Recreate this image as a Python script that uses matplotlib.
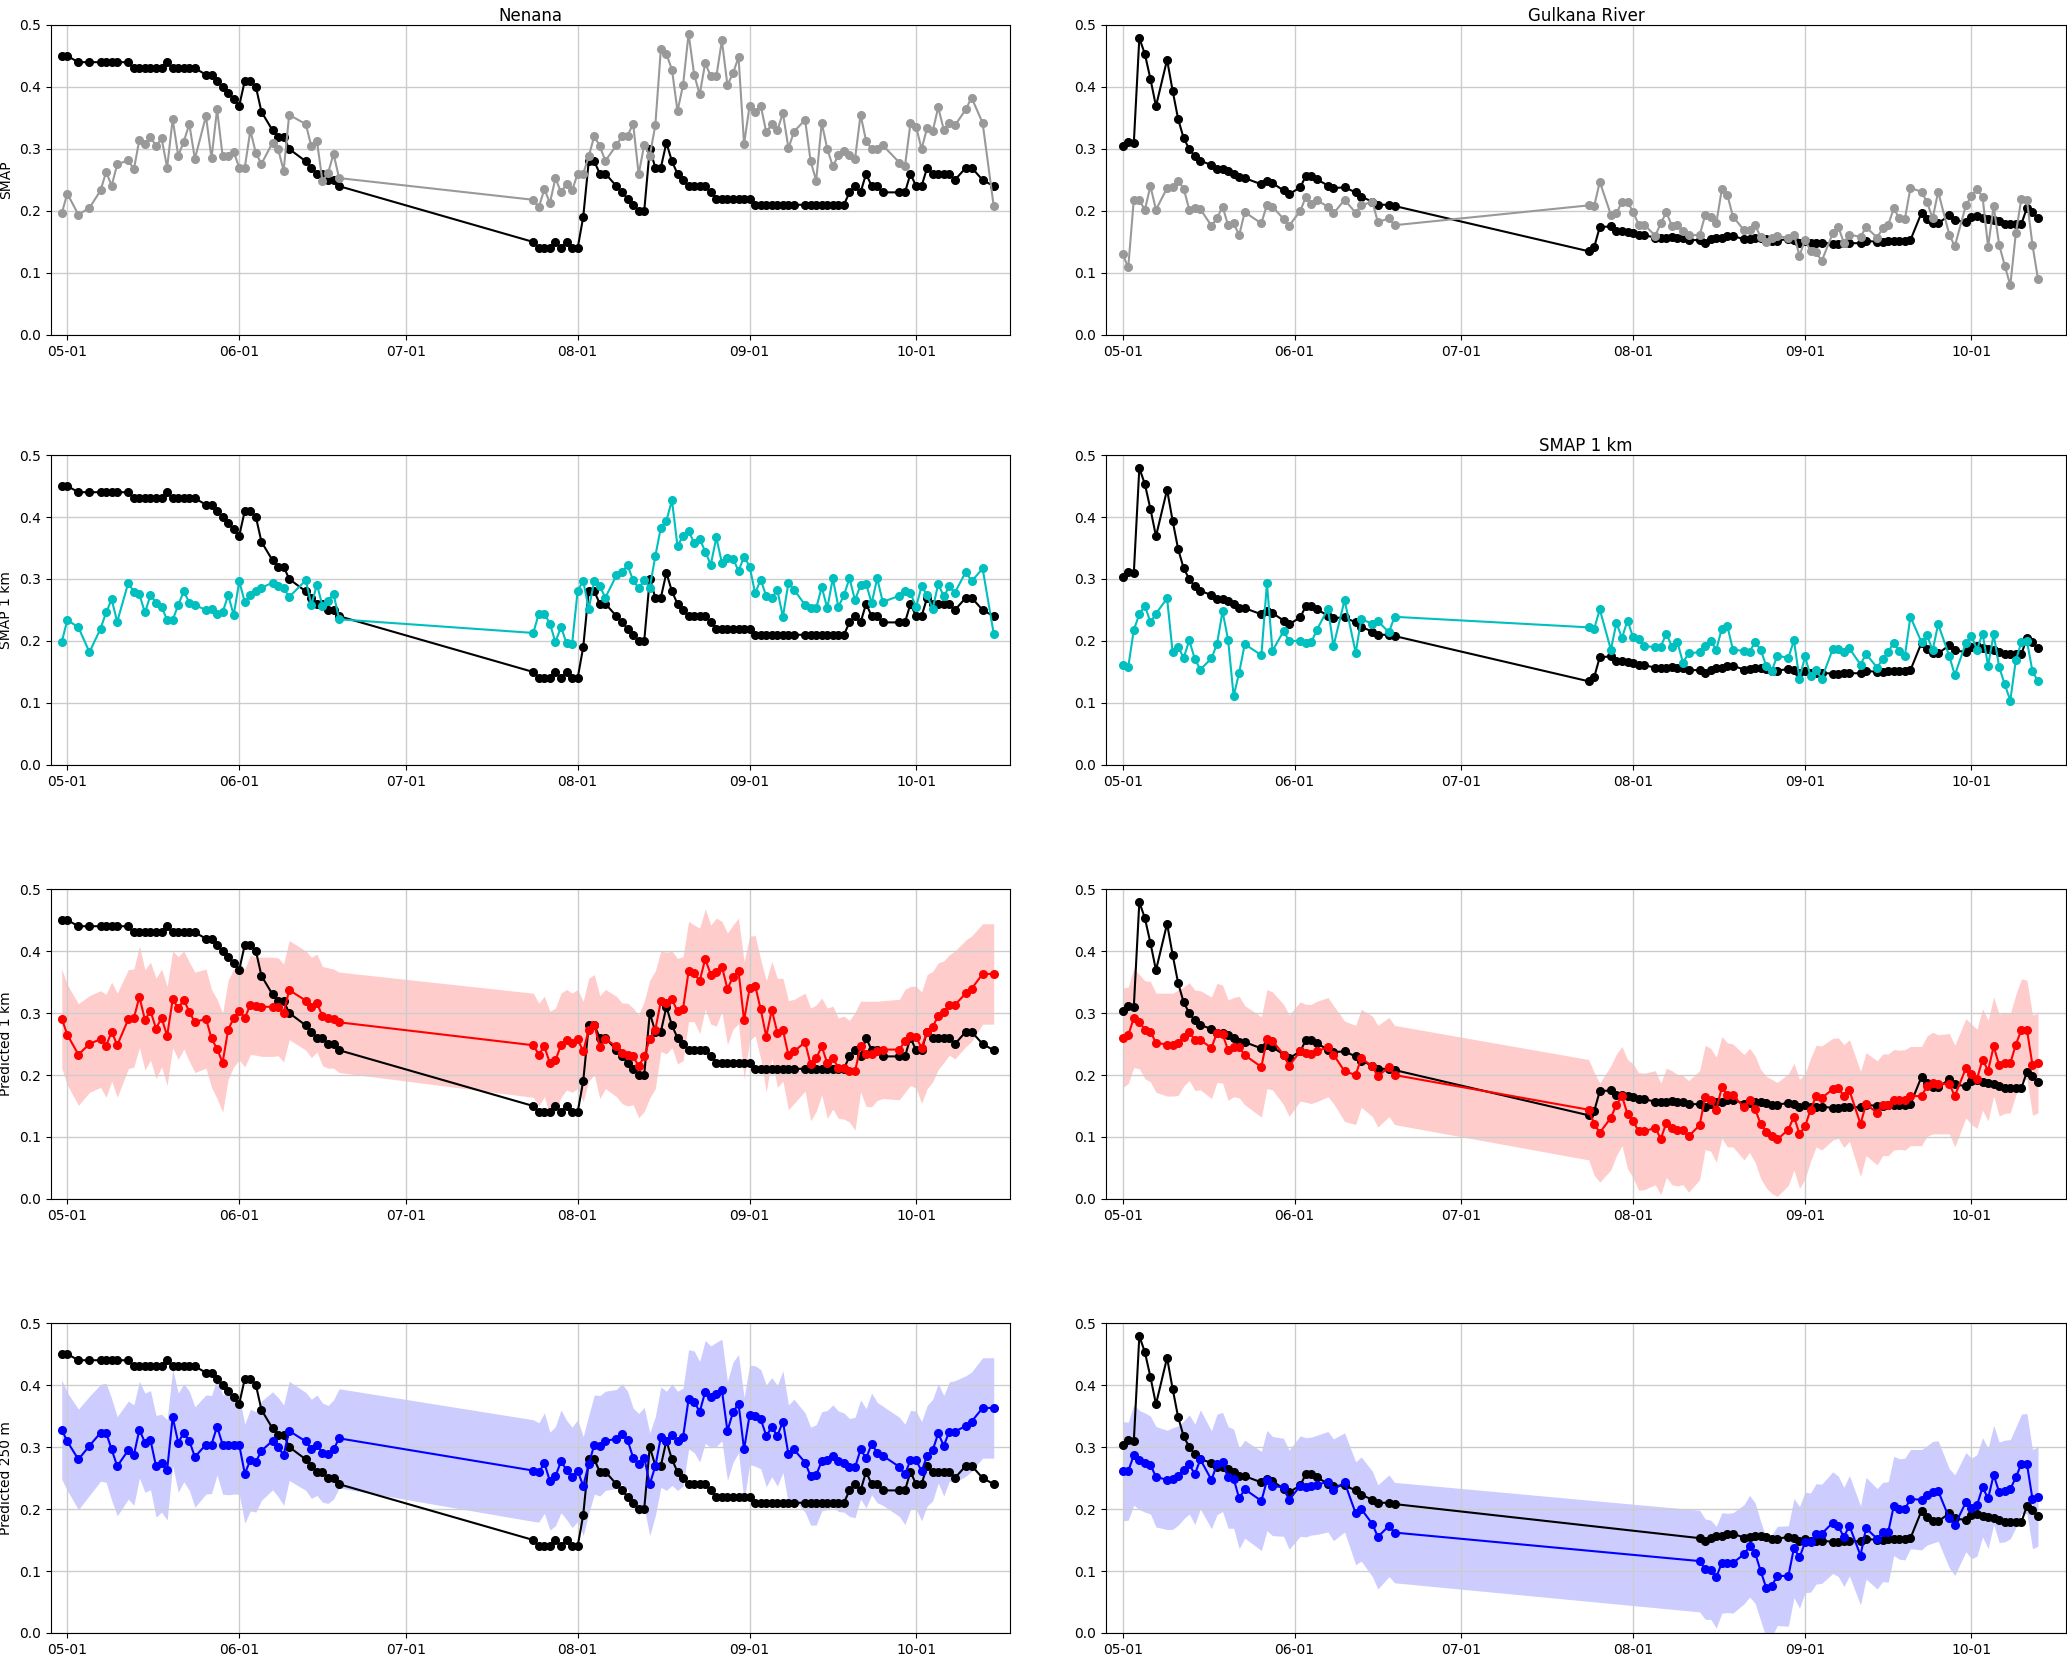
import numpy as np
import pandas as pd
import matplotlib
matplotlib.use("Agg")
import matplotlib.pyplot as plt
import matplotlib.dates as mdates

# days counted from 2019-05-01
START = pd.Timestamp("2019-05-01")

# ---------------- Nenana ----------------
nen_days = [-1, 0, 2, 4, 6, 7, 8, 9, 11, 12, 13, 14, 15, 16, 17, 18, 19, 20, 21, 22, 23,
            25, 26, 27, 28, 29, 30, 31, 32, 33, 34, 35, 37, 38, 39, 40, 43, 44, 45, 46, 47, 48, 49,
            84, 85, 86, 87, 88, 89, 90, 91, 92, 93, 94, 95, 96, 97,
            99, 100, 101, 102, 103, 104, 105, 106, 107, 108, 109, 110, 111, 112, 113, 114, 115,
            116, 117, 118, 119, 120, 121, 122, 123, 124, 125, 126, 127, 128, 129, 130, 131,
            133, 134, 135, 136, 137, 138, 139, 140, 141, 142, 143, 144, 145, 146, 147,
            150, 151, 152, 153, 154, 155, 156, 157, 158, 159, 160,
            162, 163, 165, 167]

nen_insitu = [0.45, 0.45, 0.44, 0.44, 0.44, 0.44, 0.44, 0.44, 0.44, 0.43, 0.43, 0.43, 0.43, 0.43, 0.43,
              0.44, 0.43, 0.43, 0.43, 0.43, 0.43, 0.42, 0.42, 0.41, 0.40, 0.39, 0.38, 0.37, 0.41, 0.41,
              0.40, 0.36, 0.33, 0.32, 0.32, 0.30, 0.28, 0.27, 0.26, 0.26, 0.25, 0.25, 0.24,
              0.15, 0.14, 0.14, 0.14, 0.15, 0.14, 0.15, 0.14, 0.14, 0.19, 0.28, 0.28, 0.26, 0.26,
              0.24, 0.23, 0.22, 0.21, 0.20, 0.20, 0.30, 0.27, 0.27, 0.31, 0.28, 0.26, 0.25, 0.24, 0.24,
              0.24, 0.24, 0.23, 0.22, 0.22, 0.22, 0.22, 0.22, 0.22, 0.22, 0.21, 0.21, 0.21, 0.21, 0.21,
              0.21, 0.21, 0.21,
              0.21, 0.21, 0.21, 0.21, 0.21, 0.21, 0.21, 0.21, 0.23, 0.24, 0.23, 0.26, 0.24, 0.24, 0.23,
              0.23, 0.23, 0.26, 0.24, 0.24, 0.27, 0.26, 0.26, 0.26, 0.26, 0.25,
              0.27, 0.27, 0.25, 0.24]

nen_smap = [0.196, 0.228, 0.194, 0.205, 0.233, 0.263, 0.241, 0.275, 0.282, 0.267, 0.315, 0.308, 0.320,
            0.304, 0.317, 0.270, 0.348, 0.289, 0.312, 0.340, 0.284, 0.353, 0.285, 0.364, 0.289, 0.289,
            0.295, 0.270, 0.270, 0.330, 0.293, 0.276, 0.310, 0.300, 0.265, 0.355, 0.340, 0.304, 0.313,
            0.248, 0.261, 0.292, 0.253,
            0.218, 0.206, 0.235, 0.213, 0.253, 0.230, 0.244, 0.233, 0.260, 0.260, 0.288, 0.321, 0.304, 0.281,
            0.306, 0.321, 0.321, 0.341, 0.259, 0.307, 0.289, 0.338, 0.461, 0.453, 0.428, 0.361, 0.403,
            0.486, 0.420, 0.388, 0.439, 0.417, 0.417, 0.475, 0.403, 0.422, 0.448, 0.308, 0.370, 0.359,
            0.370, 0.327, 0.340, 0.330, 0.358, 0.301, 0.328,
            0.347, 0.280, 0.249, 0.342, 0.300, 0.272, 0.290, 0.296, 0.290, 0.284, 0.355, 0.313, 0.300,
            0.300, 0.306,
            0.278, 0.272, 0.342, 0.336, 0.300, 0.334, 0.329, 0.367, 0.331, 0.342, 0.338,
            0.364, 0.383, 0.342, 0.208]

nen_smap1km = [0.198, 0.234, 0.222, 0.182, 0.220, 0.246, 0.267, 0.231, 0.294, 0.279, 0.275, 0.246, 0.274,
               0.262, 0.255, 0.234, 0.234, 0.258, 0.280, 0.262, 0.258, 0.250, 0.252, 0.244, 0.246, 0.274,
               0.242, 0.296, 0.263, 0.274, 0.280, 0.286, 0.294, 0.289, 0.285, 0.271, 0.298, 0.258, 0.291,
               0.257, 0.265, 0.276, 0.235,
               0.213, 0.244, 0.244, 0.228, 0.198, 0.223, 0.196, 0.195, 0.281, 0.297, 0.252, 0.297, 0.288, 0.270,
               0.306, 0.311, 0.322, 0.298, 0.285, 0.298, 0.286, 0.337, 0.383, 0.394, 0.427, 0.353, 0.370,
               0.378, 0.358, 0.365, 0.344, 0.323, 0.367, 0.326, 0.334, 0.333, 0.313, 0.336, 0.320, 0.277,
               0.299, 0.272, 0.270, 0.282, 0.239, 0.294, 0.283,
               0.258, 0.253, 0.253, 0.287, 0.253, 0.301, 0.255, 0.274, 0.301, 0.266, 0.290, 0.292, 0.261,
               0.301, 0.263,
               0.273, 0.281, 0.277, 0.255, 0.288, 0.274, 0.252, 0.292, 0.272, 0.288, 0.278,
               0.312, 0.296, 0.317, 0.212]

nen_pred1km = [0.291, 0.265, 0.233, 0.250, 0.258, 0.247, 0.270, 0.248, 0.290, 0.292, 0.326, 0.289, 0.303,
               0.275, 0.292, 0.263, 0.322, 0.308, 0.321, 0.302, 0.285, 0.291, 0.259, 0.242, 0.220, 0.273,
               0.292, 0.303, 0.292, 0.313, 0.311, 0.310, 0.310, 0.310, 0.300, 0.337, 0.320, 0.309, 0.316,
               0.295, 0.292, 0.291, 0.285,
               0.248, 0.233, 0.246, 0.219, 0.224, 0.248, 0.257, 0.252, 0.258, 0.238, 0.273, 0.281, 0.245, 0.258,
               0.246, 0.235, 0.233, 0.230, 0.214, 0.230, 0.258, 0.273, 0.319, 0.316, 0.322, 0.303, 0.307,
               0.367, 0.364, 0.352, 0.387, 0.362, 0.366, 0.375, 0.339, 0.358, 0.368, 0.288, 0.340, 0.344,
               0.306, 0.262, 0.305, 0.268, 0.273, 0.232, 0.238,
               0.253, 0.217, 0.227, 0.246, 0.219, 0.228, 0.211, 0.212, 0.206, 0.206, 0.246, 0.234, 0.234,
               0.239, 0.241,
               0.241, 0.255, 0.263, 0.261, 0.244, 0.270, 0.278, 0.295, 0.302, 0.313, 0.313,
               0.332, 0.339, 0.363, 0.363]

nen_pred1km_sd = [0.080, 0.081, 0.082, 0.078, 0.078, 0.083, 0.080, 0.084, 0.080, 0.079, 0.082, 0.081, 0.079,
                  0.081, 0.079, 0.080, 0.078, 0.083, 0.079, 0.080, 0.081, 0.080, 0.079, 0.080, 0.080, 0.080,
                  0.079, 0.079, 0.079, 0.080, 0.079, 0.080, 0.080, 0.079, 0.079, 0.080, 0.080, 0.081, 0.079,
                  0.080, 0.081, 0.080, 0.081,
                  0.084, 0.083, 0.081, 0.084, 0.084, 0.084, 0.081, 0.080, 0.080, 0.081, 0.083, 0.081, 0.083, 0.080,
                  0.081, 0.081, 0.083, 0.078, 0.083, 0.089, 0.095, 0.095, 0.081, 0.082, 0.078, 0.085, 0.084,
                  0.081, 0.078, 0.085, 0.081, 0.080, 0.087, 0.073, 0.090, 0.084, 0.085, 0.095, 0.084, 0.081,
                  0.080, 0.090, 0.078, 0.088, 0.083, 0.088, 0.084,
                  0.079, 0.091, 0.086, 0.078, 0.089, 0.083, 0.081, 0.083, 0.082, 0.095, 0.073, 0.085, 0.085,
                  0.080, 0.079,
                  0.081, 0.083, 0.080, 0.082, 0.090, 0.092, 0.089, 0.086, 0.082, 0.081, 0.087,
                  0.086, 0.085, 0.081, 0.081]

nen_pred250 = [0.328, 0.309, 0.280, 0.302, 0.323, 0.323, 0.296, 0.269, 0.295, 0.287, 0.328, 0.307, 0.311,
               0.269, 0.274, 0.263, 0.348, 0.307, 0.323, 0.310, 0.284, 0.304, 0.304, 0.333, 0.304, 0.304,
               0.304, 0.303, 0.257, 0.279, 0.276, 0.294, 0.310, 0.300, 0.287, 0.326, 0.309, 0.297, 0.303,
               0.291, 0.288, 0.296, 0.314,
               0.262, 0.259, 0.274, 0.245, 0.253, 0.277, 0.263, 0.251, 0.262, 0.237, 0.272, 0.304, 0.302, 0.310,
               0.313, 0.321, 0.311, 0.283, 0.272, 0.283, 0.240, 0.269, 0.316, 0.310, 0.320, 0.310, 0.316,
               0.377, 0.373, 0.357, 0.389, 0.381, 0.385, 0.392, 0.326, 0.356, 0.370, 0.296, 0.352, 0.350,
               0.345, 0.318, 0.332, 0.318, 0.341, 0.288, 0.296,
               0.275, 0.253, 0.255, 0.277, 0.279, 0.286, 0.277, 0.275, 0.267, 0.267, 0.296, 0.282, 0.305,
               0.291, 0.286,
               0.268, 0.256, 0.279, 0.279, 0.261, 0.286, 0.295, 0.322, 0.302, 0.325, 0.325,
               0.334, 0.341, 0.363, 0.363]

nen_pred250_sd = [0.080, 0.079, 0.081, 0.080, 0.078, 0.080, 0.082, 0.080, 0.079, 0.081, 0.078, 0.080, 0.080,
                  0.082, 0.079, 0.081, 0.078, 0.080, 0.079, 0.080, 0.081, 0.080, 0.079, 0.078, 0.080, 0.081,
                  0.080, 0.079, 0.080, 0.082, 0.081, 0.080, 0.079, 0.080, 0.081, 0.080, 0.079, 0.080, 0.081,
                  0.080, 0.079, 0.080, 0.080,
                  0.082, 0.080, 0.081, 0.079, 0.080, 0.083, 0.080, 0.081, 0.082, 0.080, 0.079, 0.080, 0.081, 0.080,
                  0.080, 0.081, 0.079, 0.080, 0.082, 0.081, 0.083, 0.080, 0.081, 0.080, 0.082, 0.080, 0.079,
                  0.080, 0.082, 0.081, 0.083, 0.082, 0.084, 0.082, 0.080, 0.081, 0.079, 0.084, 0.080, 0.081,
                  0.080, 0.082, 0.080, 0.081, 0.082, 0.080, 0.081,
                  0.080, 0.079, 0.081, 0.080, 0.080, 0.082, 0.081, 0.080, 0.079, 0.081, 0.080, 0.080, 0.082,
                  0.081, 0.080,
                  0.080, 0.081, 0.080, 0.079, 0.080, 0.081, 0.082, 0.080, 0.081, 0.080, 0.082,
                  0.081, 0.080, 0.081, 0.081]

# ---------------- Gulkana River ----------------
gul_days = [0, 1, 2, 3, 4, 5, 6, 8, 9, 10, 11, 12, 13, 14, 16, 17, 18, 19, 20, 21, 22,
            25, 26, 27, 29, 30, 32, 33, 34, 35, 37, 38, 40, 42, 43, 45, 46, 48, 49,
            84, 85, 86, 88, 89, 90, 91, 92, 93, 94, 96, 97, 98, 99, 100, 101, 102,
            104, 105, 106, 107, 108, 109, 110, 112, 113, 114, 115, 116, 117, 118,
            120, 121, 122, 123, 124, 125, 126, 128, 129, 130, 131, 133, 134,
            136, 137, 138, 139, 140, 141, 142, 144, 145, 146, 147, 149, 150,
            152, 153, 154, 155, 156, 157, 158, 159, 160, 161, 162, 163, 164, 165]

gul_insitu = [0.304, 0.311, 0.309, 0.479, 0.453, 0.413, 0.369, 0.444, 0.394, 0.348, 0.317, 0.300, 0.288,
              0.281, 0.274, 0.268, 0.268, 0.265, 0.260, 0.254, 0.253, 0.243, 0.249, 0.245, 0.233, 0.227,
              0.238, 0.256, 0.256, 0.251, 0.241, 0.237, 0.238, 0.230, 0.223, 0.215, 0.210, 0.210, 0.208,
              0.135, 0.142, 0.174, 0.175, 0.167, 0.167, 0.166, 0.164, 0.161, 0.161, 0.157, 0.157, 0.157,
              0.158, 0.157, 0.156, 0.153, 0.153, 0.149, 0.154, 0.156, 0.156, 0.160, 0.160, 0.154, 0.155,
              0.156, 0.157, 0.155, 0.152, 0.152, 0.155, 0.153, 0.148, 0.151, 0.149, 0.148, 0.149, 0.147,
              0.147, 0.148, 0.148, 0.148, 0.152, 0.150, 0.150, 0.151, 0.151, 0.152, 0.152, 0.153, 0.197,
              0.187, 0.180, 0.180, 0.193, 0.185, 0.182, 0.190, 0.192, 0.189, 0.187, 0.185, 0.183, 0.179,
              0.179, 0.179, 0.179, 0.205, 0.198, 0.188]

gul_smap = [0.130, 0.109, 0.218, 0.217, 0.202, 0.240, 0.202, 0.237, 0.238, 0.249, 0.236, 0.202, 0.204,
            0.203, 0.176, 0.188, 0.207, 0.177, 0.180, 0.161, 0.198, 0.180, 0.210, 0.207, 0.187, 0.176,
            0.200, 0.222, 0.211, 0.217, 0.207, 0.196, 0.218, 0.197, 0.209, 0.215, 0.182, 0.188, 0.177,
            0.209, 0.208, 0.247, 0.194, 0.196, 0.215, 0.214, 0.199, 0.178, 0.178, 0.160, 0.180, 0.198,
            0.176, 0.178, 0.167, 0.161, 0.161, 0.193, 0.191, 0.180, 0.235, 0.226, 0.191, 0.169, 0.170,
            0.177, 0.158, 0.150, 0.157, 0.159, 0.157, 0.162, 0.128, 0.153, 0.136, 0.134, 0.119, 0.164,
            0.174, 0.149, 0.162, 0.158, 0.174, 0.157, 0.172, 0.178, 0.204, 0.188, 0.187, 0.237, 0.231,
            0.214, 0.188, 0.231, 0.162, 0.143, 0.209, 0.224, 0.235, 0.223, 0.142, 0.208, 0.145, 0.112,
            0.080, 0.164, 0.220, 0.217, 0.145, 0.090]

gul_smap1km = [0.161, 0.158, 0.218, 0.243, 0.257, 0.230, 0.244, 0.269, 0.182, 0.190, 0.173, 0.201, 0.171,
               0.154, 0.172, 0.195, 0.248, 0.202, 0.111, 0.149, 0.195, 0.177, 0.293, 0.184, 0.216, 0.200,
               0.200, 0.197, 0.198, 0.218, 0.252, 0.192, 0.266, 0.181, 0.235, 0.228, 0.232, 0.214, 0.239,
               0.222, 0.220, 0.251, 0.186, 0.229, 0.205, 0.233, 0.206, 0.203, 0.192, 0.190, 0.191, 0.212,
               0.191, 0.198, 0.165, 0.180, 0.182, 0.192, 0.200, 0.186, 0.220, 0.224, 0.186, 0.184, 0.183,
               0.198, 0.186, 0.160, 0.152, 0.176, 0.173, 0.201, 0.139, 0.175, 0.143, 0.153, 0.139, 0.187,
               0.187, 0.183, 0.188, 0.162, 0.179, 0.157, 0.171, 0.183, 0.197, 0.184, 0.176, 0.239, 0.198,
               0.209, 0.185, 0.227, 0.176, 0.145, 0.197, 0.208, 0.186, 0.212, 0.160, 0.211, 0.158, 0.130,
               0.104, 0.169, 0.198, 0.200, 0.151, 0.135]

gul_pred1km = [0.260, 0.264, 0.292, 0.286, 0.273, 0.270, 0.252, 0.249, 0.249, 0.252, 0.262, 0.270, 0.256,
               0.256, 0.244, 0.268, 0.266, 0.240, 0.245, 0.245, 0.232, 0.213, 0.258, 0.255, 0.233, 0.215,
               0.238, 0.235, 0.234, 0.238, 0.245, 0.233, 0.206, 0.200, 0.227, 0.214, 0.198, 0.213, 0.200,
               0.144, 0.121, 0.107, 0.131, 0.152, 0.166, 0.137, 0.126, 0.109, 0.109, 0.115, 0.097, 0.123,
               0.115, 0.111, 0.111, 0.101, 0.119, 0.164, 0.160, 0.144, 0.180, 0.168, 0.167, 0.148, 0.159,
               0.145, 0.121, 0.108, 0.101, 0.096, 0.112, 0.133, 0.105, 0.117, 0.144, 0.166, 0.163, 0.177,
               0.179, 0.166, 0.175, 0.121, 0.153, 0.139, 0.152, 0.152, 0.160, 0.160, 0.160, 0.166, 0.166,
               0.182, 0.187, 0.185, 0.186, 0.166, 0.211, 0.201, 0.194, 0.225, 0.207, 0.246, 0.216, 0.219,
               0.219, 0.249, 0.273, 0.273, 0.216, 0.219]

gul_pred1km_sd = [0.080, 0.078, 0.080, 0.076, 0.079, 0.081, 0.080, 0.083, 0.083, 0.085, 0.080, 0.079, 0.081,
                  0.080, 0.082, 0.080, 0.079, 0.081, 0.080, 0.082, 0.080, 0.081, 0.080, 0.079, 0.081, 0.082,
                  0.080, 0.079, 0.080, 0.081, 0.080, 0.079, 0.081, 0.080, 0.079, 0.081, 0.082, 0.080, 0.080,
                  0.081, 0.083, 0.080, 0.084, 0.082, 0.080, 0.088, 0.092, 0.095, 0.094, 0.092, 0.090, 0.088,
                  0.092, 0.090, 0.088, 0.090, 0.088, 0.084, 0.083, 0.085, 0.082, 0.084, 0.083, 0.085, 0.084,
                  0.086, 0.088, 0.090, 0.092, 0.092, 0.090, 0.086, 0.088, 0.085, 0.083, 0.082, 0.084, 0.082,
                  0.081, 0.083, 0.082, 0.085, 0.083, 0.084, 0.082, 0.082, 0.081, 0.080, 0.081, 0.080, 0.080,
                  0.081, 0.082, 0.080, 0.081, 0.082, 0.080, 0.081, 0.080, 0.082, 0.081, 0.080, 0.082, 0.081,
                  0.080, 0.081, 0.082, 0.080, 0.081, 0.080]

# the 250 m product is missing from late June to mid August at Gulkana
gul_days250 = [0, 1, 2, 3, 4, 5, 6, 8, 9, 10, 11, 12, 13, 14, 16, 17, 18, 19, 20, 21, 22,
               25, 26, 27, 29, 30, 32, 33, 34, 35, 37, 38, 40, 42, 43, 45, 46, 48, 49,
               104, 105, 106, 107, 108, 109, 110, 112, 113, 114, 115, 116, 117, 118,
               120, 121, 122, 123, 124, 125, 126, 128, 129, 130, 131, 133, 134,
               136, 137, 138, 139, 140, 141, 142, 144, 145, 146, 147, 149, 150,
               152, 153, 154, 155, 156, 157, 158, 159, 160, 161, 162, 163, 164, 165]

gul_pred250 = [0.261, 0.261, 0.287, 0.279, 0.275, 0.271, 0.252, 0.247, 0.249, 0.254, 0.263, 0.272, 0.256,
               0.280, 0.247, 0.272, 0.276, 0.251, 0.249, 0.217, 0.232, 0.213, 0.246, 0.237, 0.235, 0.215,
               0.237, 0.235, 0.237, 0.239, 0.244, 0.231, 0.243, 0.193, 0.200, 0.176, 0.155, 0.173, 0.162,
               0.116, 0.103, 0.102, 0.090, 0.113, 0.113, 0.113, 0.127, 0.140, 0.129, 0.100, 0.073, 0.076,
               0.092, 0.092, 0.137, 0.122, 0.146, 0.146, 0.160, 0.160, 0.178, 0.172, 0.155, 0.173, 0.125,
               0.169, 0.152, 0.163, 0.163, 0.205, 0.200, 0.200, 0.216, 0.215, 0.222, 0.227, 0.229, 0.185,
               0.174, 0.211, 0.201, 0.206, 0.235, 0.217, 0.255, 0.227, 0.229, 0.232, 0.251, 0.273, 0.273,
               0.216, 0.220]

gul_pred250_sd = [0.080, 0.079, 0.081, 0.080, 0.080, 0.079, 0.081, 0.080, 0.082, 0.080, 0.079, 0.080, 0.081,
                  0.080, 0.079, 0.081, 0.080, 0.082, 0.080, 0.081, 0.079, 0.080, 0.081, 0.080, 0.079, 0.080,
                  0.081, 0.080, 0.079, 0.080, 0.081, 0.082, 0.080, 0.083, 0.084, 0.085, 0.084, 0.082, 0.081,
                  0.082, 0.081, 0.080, 0.082, 0.081, 0.080, 0.081, 0.080, 0.082, 0.081, 0.080, 0.081, 0.082,
                  0.080, 0.081, 0.080, 0.082, 0.081, 0.080, 0.081, 0.080, 0.082, 0.081, 0.080, 0.081, 0.080,
                  0.082, 0.081, 0.080, 0.081, 0.080, 0.081, 0.082, 0.080, 0.081, 0.080, 0.082, 0.081, 0.080,
                  0.081, 0.080, 0.081, 0.082, 0.080, 0.081, 0.080, 0.081, 0.082, 0.080, 0.081, 0.080, 0.081,
                  0.080, 0.080]

row_labels = ["SMAP", "SMAP 1 km", "Predicted 1 km", "Predicted 250 m"]

GRAY = "#999999"
CYAN = "c"


def to_dates(days):
    return START + pd.to_timedelta(np.asarray(days), unit="D")


def panel(ax, days, insitu, values, color, spread=None):
    d = to_dates(days)
    if spread is not None:
        v = np.asarray(values)
        s = np.asarray(spread)
        ax.fill_between(d, v - s, v + s, color=color, alpha=0.2, linewidth=0)
    ax.plot(d, insitu, "o-", color="k", ms=5.5, lw=1.5)
    ax.plot(d, values, "o-", color=color, ms=5.5, lw=1.5)
    ax.set_xlim(to_dates([-3])[0], to_dates([170])[0])
    ax.set_ylim(0, 0.5)
    ax.xaxis.set_major_locator(mdates.MonthLocator())
    ax.xaxis.set_major_formatter(mdates.DateFormatter("%m-%d"))
    ax.grid(True, color="#cccccc", linewidth=1.0)


fig = plt.figure(figsize=(20.67, 16.54), dpi=100)
lefts = [0.0245, 0.5351]
bottoms = [0.7975, 0.5375, 0.2751, 0.0127]
w, h = 0.4643, 0.1874
axes = [[fig.add_axes([l, b, w, h]) for l in lefts] for b in bottoms]

gul_lookup = dict(zip(gul_days, gul_insitu))
gul_insitu250 = [gul_lookup[d] for d in gul_days250]

panel(axes[0][0], nen_days, nen_insitu, nen_smap, GRAY)
panel(axes[1][0], nen_days, nen_insitu, nen_smap1km, CYAN)
panel(axes[2][0], nen_days, nen_insitu, nen_pred1km, "r", nen_pred1km_sd)
panel(axes[3][0], nen_days, nen_insitu, nen_pred250, "b", nen_pred250_sd)

panel(axes[0][1], gul_days, gul_insitu, gul_smap, GRAY)
panel(axes[1][1], gul_days, gul_insitu, gul_smap1km, CYAN)
panel(axes[2][1], gul_days, gul_insitu, gul_pred1km, "r", gul_pred1km_sd)
panel(axes[3][1], gul_days250, gul_insitu250, gul_pred250, "b", gul_pred250_sd)

for i, lab in enumerate(row_labels):
    axes[i][0].set_ylabel(lab)

axes[0][0].set_title("Nenana", pad=3)
axes[0][1].set_title("Gulkana River", pad=3)
axes[1][1].set_title("SMAP 1 km", pad=3)

fig.savefig("out.png", dpi=100)
